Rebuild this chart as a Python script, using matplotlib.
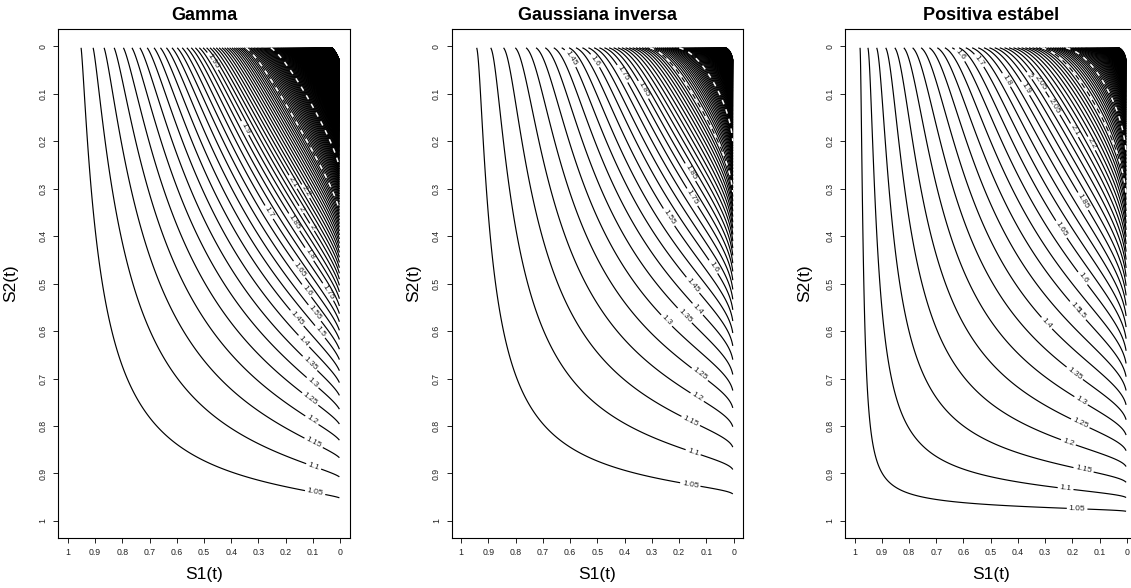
import numpy as np
import matplotlib
matplotlib.use("Agg")
import matplotlib.pyplot as plt

plt.rcParams['font.family'] = ['Liberation Sans', 'DejaVu Sans']

W, H = 1131, 588

# panel texts
titles = ['Gamma', 'Gaussiana inversa', 'Positiva estábel']
x_label = 'S1(t)'
y_label = 'S2(t)'
tick_values = [0, 0.1, 0.2, 0.3, 0.4, 0.5, 0.6, 0.7, 0.8, 0.9, 1]
tick_labels = ['0', '0.1', '0.2', '0.3', '0.4', '0.5', '0.6', '0.7', '0.8', '0.9', '1']

# dependence parameters of the three frailty models (fitted to the drawn curves)
gamma_theta = 2 / 3
ig_theta = 0.9
ps_alpha = 0.75                     # marginal power of the positive stable model
ps_scale = 0.95
ps_theta, ps_delta = 0.5, 1.2       # BB1 form of its joint survival

# contour levels: 1.05 up in steps of 0.05, highest level per panel
level_first = 1.05
level_step = 0.05
level_last = [25.0, 9.0, 7.0]

# where the contour labels sit (S1, S2)
gamma_lab_s1 = [0.092, 0.098, 0.098, 0.103, 0.110, 0.103, 0.116, 0.135, 0.159, 0.073, 0.098, 0.128,
                0.147, 0.257, 0.043, 0.116, 0.165, 0.349, 0.470, 0.141, 0.098, 0.171, 0.129]
gamma_lab_s2 = [0.940, 0.886, 0.836, 0.787, 0.743, 0.710, 0.671, 0.622, 0.573, 0.601, 0.564, 0.517,
                0.469, 0.348, 0.517, 0.439, 0.369, 0.172, 0.032, 0.343, 0.379, 0.285, 0.306]

ig_lab_s1 = [0.161, 0.153, 0.165, 0.140, 0.128, 0.250, 0.183, 0.134, 0.147, 0.587, 0.232, 0.073,
             0.513, 0.147, 0.415, 0.167, 0.330]
ig_lab_s2 = [0.930, 0.863, 0.798, 0.745, 0.694, 0.580, 0.569, 0.555, 0.502, 0.021, 0.358, 0.464,
             0.032, 0.316, 0.060, 0.268, 0.091]

ps_lab_s1 = [0.183, 0.226, 0.159, 0.214, 0.165, 0.159, 0.177, 0.275, 0.208, 0.153, 0.177, 0.611,
             0.226, 0.538, 0.452, 0.171, 0.379, 0.361, 0.269, 0.318, 0.190, 0.128]
ps_lab_s2 = [0.978, 0.936, 0.892, 0.833, 0.787, 0.738, 0.678, 0.573, 0.559, 0.555, 0.495, 0.0175,
             0.380, 0.028, 0.074, 0.330, 0.091, 0.063, 0.127, 0.077, 0.176, 0.204]
# labels are only looked for on levels up to this one
label_top = [2.3, 1.9, 2.3]

# points the white bands of label gaps pass through, inside the black area
gamma_band = [(0.184, 0.14), (0.10, 0.127)]
ig_band = [(0.11, 0.14), (0.05, 0.10)]
ps_band = [(0.134, 0.105), (0.061, 0.105)]


def ratio_gamma(u, v):
    c = (u ** -gamma_theta + v ** -gamma_theta - 1) ** (-1 / gamma_theta)
    return c / (u * v)


def ratio_ig(u, v):
    s1 = -np.log(u) + ig_theta * np.log(u) ** 2 / 2
    s2 = -np.log(v) + ig_theta * np.log(v) ** 2 / 2
    c = np.exp((1 - np.sqrt(1 + 2 * ig_theta * (s1 + s2))) / ig_theta)
    return c / (u * v)


def ratio_ps(u, v):
    x = ps_scale * (-np.log(u)) ** ps_alpha
    y = ps_scale * (-np.log(v)) ** ps_alpha
    a = np.expm1(ps_theta * x) ** ps_delta
    b = np.expm1(ps_theta * y) ** ps_delta
    ln_c = -np.log1p((a + b) ** (1 / ps_delta)) / ps_theta
    return np.exp(ln_c + x + y)


fields = [ratio_gamma, ratio_ig, ratio_ps]
lab_s1 = [gamma_lab_s1, ig_lab_s1, ps_lab_s1]
lab_s2 = [gamma_lab_s2, ig_lab_s2, ps_lab_s2]
bands = [gamma_band, ig_band, ps_band]

# evaluation grid, finer near 0 where the curves bunch up
g = np.unique(np.concatenate([np.geomspace(0.003, 0.15, 260), np.linspace(0.15, 0.997, 340)]))
U, V = np.meshgrid(g, g)

lefts = [58.3, 451.7, 845.0]
ylab_x = [11.0, 413.5, 805.0]
box_w, box_top, box_bot = 291.7, 29.3, 537.5


def fmt(v):
    return '%g' % round(v, 2)


fig = plt.figure(figsize=(W / 100, H / 100), dpi=100)

for i in range(3):
    ax = fig.add_axes([lefts[i] / W, (H - box_bot) / H, box_w / W, (box_bot - box_top) / H])
    ax.set_xlim(1.035, -0.036)
    ax.set_ylim(1.035, -0.036)

    Z = fields[i](U, V)
    lv = np.round(np.arange(level_first, level_last[i] + 1e-9, level_step), 2)
    cs = ax.contour(U, V, Z, levels=lv, colors='black', linewidths=0.85)

    # white dashes where R cut the dense lines for their labels
    band_lv = sorted(set(float(np.round(fields[i](bu, bv) / level_step) * level_step)
                         for bu, bv in bands[i]))
    ax.contour(U, V, Z, levels=band_lv, colors='white', linewidths=1.1,
               linestyles=[(0, (3, 3.5))], zorder=3)

    n_lab = int(np.sum(cs.levels <= label_top[i] + 1e-9))
    cs.clabel(levels=list(cs.levels[:n_lab]), manual=list(zip(lab_s1[i], lab_s2[i])),
              inline=True, inline_spacing=2, fontsize=6, fmt=fmt, colors='#222222')

    ax.set_xticks(tick_values)
    ax.set_xticklabels(tick_labels)
    ax.set_yticks(tick_values)
    ax.set_yticklabels(tick_labels)
    ax.tick_params(direction='out', length=3.8, width=0.7, labelsize=6.3, pad=4, colors='#222222')
    ax.tick_params(axis='y', labelrotation=90)
    for t in ax.get_yticklabels():
        t.set_va('center')
    for sp in ax.spines.values():
        sp.set_linewidth(0.8)
        sp.set_zorder(5)

    cx = (lefts[i] + box_w / 2) / W
    fig.text(cx, 1 - 20.5 / H, titles[i], ha='center', va='baseline',
             fontsize=13, fontweight='bold')
    fig.text(cx, 1 - 578.7 / H, x_label, ha='center', va='baseline', fontsize=12.5)
    fig.text(ylab_x[i] / W, 1 - 283.5 / H, y_label, rotation=90,
             ha='center', va='center', fontsize=12.5)

fig.savefig('out.png', dpi=100)
